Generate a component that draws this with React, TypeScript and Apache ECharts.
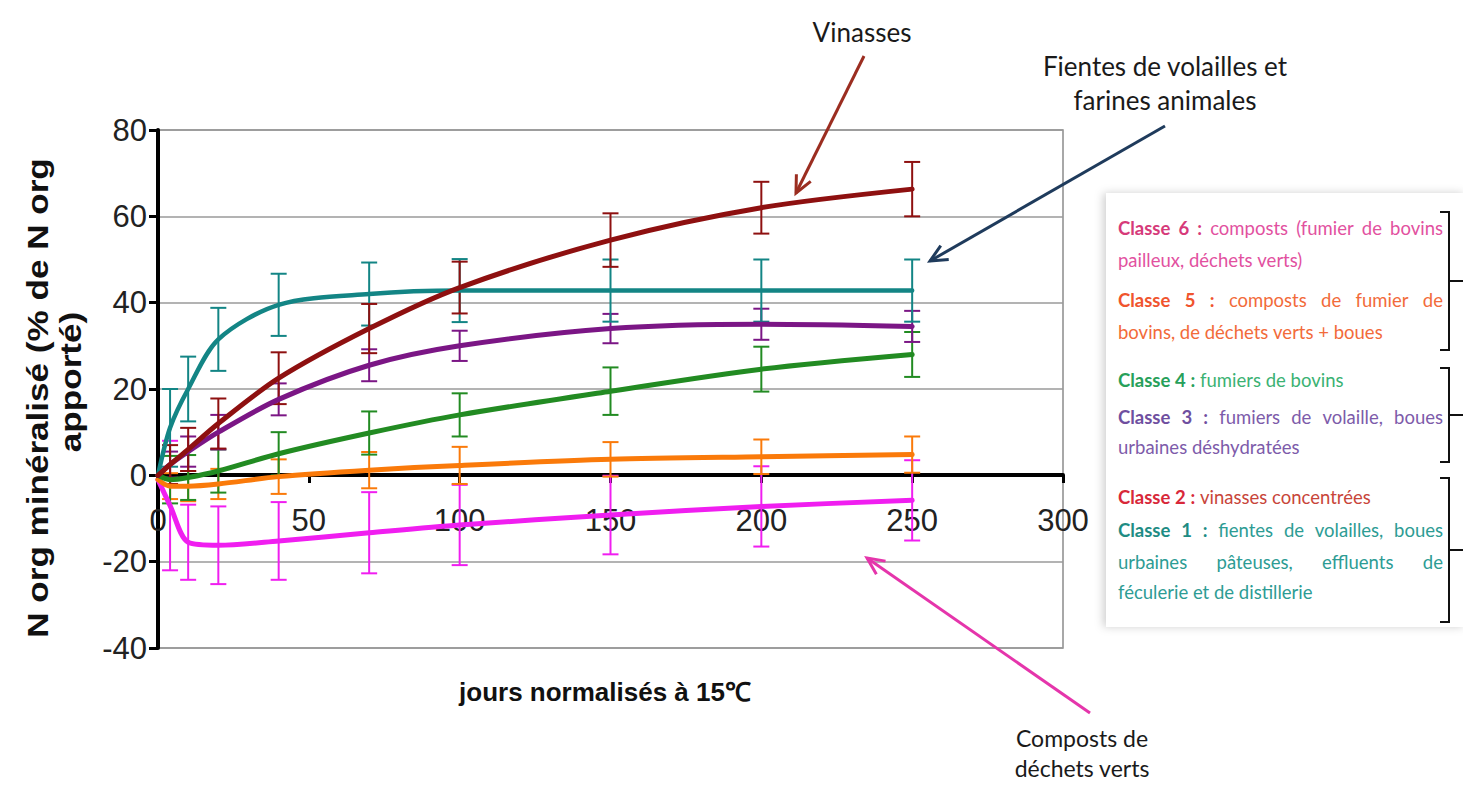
import React, { useEffect, useRef } from 'react';
import * as echarts from 'echarts';

// ---------- data ----------
const xDays = [0, 4, 10, 20, 40, 70, 100, 150, 200, 250];

const vinasses = [0, 2.5, 6, 12, 22.5, 34, 43.5, 54.5, 62, 66.3];
const vinassesErr = [null, 4.5, 5, 5.8, 6, 5.7, 6, 6.2, 6, 6.3];

const fientes = [0, 11, 20, 31.5, 39.5, 42, 42.8, 42.8, 42.8, 42.8];
const fientesErr = [null, 9, 7.5, 7.3, 7.2, 7.3, 7.3, 7.2, 7.2, 7.2];

const classe3 = [0, 2.5, 5.5, 10, 17.6, 25.5, 30, 34, 35, 34.5];
const classe3Err = [null, 3, 3.5, 4, 3.7, 3.7, 3.5, 3.4, 3.6, 3.6];

const classe4 = [0, -1, -0.5, 1, 5, 9.8, 14, 19.5, 24.6, 28];
const classe4Err = [null, 5.5, 5.2, 5, 5, 5, 5, 5.5, 5.2, 5.2];

const classe5 = [-1, -2.5, -2.5, -2, -0.3, 1.2, 2.3, 3.7, 4.3, 4.8];
const classe5Err = [null, 3, 3.5, 3.5, 4, 4.2, 4.3, 4, 4, 4.2];

const composts = [-1, -7, -15.5, -16.2, -15.2, -13.3, -11.5, -9.2, -7.2, -5.8];
const compostsErr = [null, 15, 8.7, 9, 9, 9.4, 9.3, 9.1, 9.3, 9.3];

const xMin = 0, xMax = 300, xStep = 50;
const yMin = -40, yMax = 80, yStep = 20;

const xTitle = 'jours normalisés à 15℃';
const yTitle1 = 'N org minéralisé (% de N org';
const yTitle2 = 'apporté)';

const legendBold = ['Classe 6 :', '', 'Classe 5 :', '', 'Classe 4 :', 'Classe 3 :', '', 'Classe 2 :', 'Classe 1 :', '', ''];
const legendText = [
  'composts (fumier de bovins',
  'pailleux, déchets verts)',
  'composts de fumier de',
  'bovins, de déchets verts + boues',
  'fumiers de bovins',
  'fumiers de volaille, boues',
  'urbaines déshydratées',
  'vinasses concentrées',
  'fientes de volailles, boues',
  'urbaines pâteuses, effluents de',
  'féculerie et de distillerie',
];
const legendJustify = [true, false, true, false, false, true, false, false, true, true, false];
const legendY = [228, 260, 300, 332, 380, 417, 447, 497, 530, 562, 592];
const legendColor = ['#E2519F', '#E2519F', '#F26B3A', '#F26B3A', '#3BB273', '#7D5BAA', '#7D5BAA', '#C8453A', '#2D9C94', '#2D9C94', '#2D9C94'];
const legendBoldColor = ['#D63A7A', '#D63A7A', '#F0542E', '#F0542E', '#27A05A', '#6F4FA0', '#6F4FA0', '#D8283A', '#1E8C84', '#1E8C84', '#1E8C84'];

const seriesDefs = [
  { name: 'Classe 6', values: composts, errors: compostsErr, color: '#F01EF0', width: 5 },
  { name: 'Classe 5', values: classe5, errors: classe5Err, color: '#FA7A0A', width: 5 },
  { name: 'Classe 4', values: classe4, errors: classe4Err, color: '#228B22', width: 5 },
  { name: 'Classe 3', values: classe3, errors: classe3Err, color: '#7B1685', width: 5 },
  { name: 'Classe 1', values: fientes, errors: fientesErr, color: '#138585', width: 4.5 },
  { name: 'Classe 2', values: vinasses, errors: vinassesErr, color: '#8E1010', width: 5 },
];

// ---------- layout ----------
const GRID_LEFT = 158;
const GRID_RIGHT = 400;
const GRID_TOP = 130;
const GRID_BOTTOM = 137;
const CHART_H = 785;

const AXIS_FONT = '"Liberation Sans", Arial, sans-serif';
const LEG_FONT = 'Lato';
const LEG_SIZE = 18.5;
const LEG_LEFT = 1118;
const LEG_RIGHT = 1443;

let measureCtx: CanvasRenderingContext2D | null = null;
function textWidth(text: string, bold: boolean): number {
  if (!measureCtx) measureCtx = document.createElement('canvas').getContext('2d');
  measureCtx!.font = `${bold ? 'bold ' : ''}${LEG_SIZE}px ${LEG_FONT}`;
  return measureCtx!.measureText(text).width;
}

function legendElements(): any[] {
  const out: any[] = [];
  legendText.forEach((txt, i) => {
    const words: { t: string; b: boolean }[] = [];
    if (legendBold[i]) legendBold[i].split(' ').forEach((w) => words.push({ t: w, b: true }));
    txt.split(' ').forEach((w) => words.push({ t: w, b: false }));
    const widths = words.map((w) => textWidth(w.t, w.b));
    const sum = widths.reduce((a, b) => a + b, 0);
    const space = textWidth(' ', false);
    let gap = space;
    if (legendJustify[i] && words.length > 1) {
      gap = (LEG_RIGHT - LEG_LEFT - sum) / (words.length - 1);
    }
    let x = LEG_LEFT;
    words.forEach((w, k) => {
      out.push({
        type: 'text', x, y: legendY[i], z: 20,
        style: {
          text: w.t, fill: w.b ? legendBoldColor[i] : legendColor[i],
          fontFamily: LEG_FONT, fontSize: LEG_SIZE, fontWeight: w.b ? 'bold' : 'normal',
          align: 'left', verticalAlign: 'middle',
        },
      });
      x += widths[k] + gap;
    });
  });
  return out;
}

function bracket(top: number, bottom: number): any[] {
  const vx = 1449;
  const mid = (top + bottom) / 2;
  const st = { stroke: '#111', lineWidth: 2 };
  return [
    { type: 'polyline', z: 20, shape: { points: [[1440, top], [vx, top], [vx, bottom], [1440, bottom]] }, style: { ...st, fill: null } },
    { type: 'line', z: 20, shape: { x1: vx, y1: mid, x2: 1463, y2: mid }, style: st },
  ];
}

function arrow(x1: number, y1: number, x2: number, y2: number, color: string): any[] {
  const dx = x2 - x1, dy = y2 - y1;
  const len = Math.sqrt(dx * dx + dy * dy);
  const ux = dx / len, uy = dy / len;
  const nx = -uy, ny = ux;
  const L = 17, W = 8;
  return [
    { type: 'line', z: 20, shape: { x1, y1, x2, y2 }, style: { stroke: color, lineWidth: 3 } },
    {
      type: 'polyline', z: 20,
      shape: { points: [[x2 - ux * L + nx * W, y2 - uy * L + ny * W], [x2, y2], [x2 - ux * L - nx * W, y2 - uy * L - ny * W]] },
      style: { stroke: color, lineWidth: 3, fill: null },
    },
  ];
}

function annot(text: string, x: number, y: number, size = 26): any {
  return {
    type: 'text', x, y, z: 20,
    style: { text, fill: '#1a1a1a', fontFamily: LEG_FONT, fontSize: size, align: 'center', verticalAlign: 'middle' },
  };
}

function buildOption(): any {
  // distance from bottom edge of the grid up to the y = 0 line
  const plotH = CHART_H - GRID_TOP - GRID_BOTTOM;
  const zeroOffset = -Math.round(plotH * (0 - yMin) / (yMax - yMin));

  const errorSeries = seriesDefs.map((s) => ({
    type: 'custom',
    name: s.name + ' err',
    z: 2,
    encode: { x: 0, y: [1, 2] },
    data: xDays
      .map((x, i) => (s.errors[i] == null ? null : [x, s.values[i] - (s.errors[i] as number), s.values[i] + (s.errors[i] as number)]))
      .filter((d) => d !== null),
    renderItem: (params: any, api: any) => {
      const x = api.value(0);
      const lo = api.coord([x, api.value(1)]);
      const hi = api.coord([x, api.value(2)]);
      const hw = 8;
      const st = { stroke: s.color, lineWidth: 2 };
      return {
        type: 'group',
        children: [
          { type: 'line', shape: { x1: hi[0], y1: hi[1], x2: lo[0], y2: lo[1] }, style: st },
          { type: 'line', shape: { x1: hi[0] - hw, y1: hi[1], x2: hi[0] + hw, y2: hi[1] }, style: st },
          { type: 'line', shape: { x1: lo[0] - hw, y1: lo[1], x2: lo[0] + hw, y2: lo[1] }, style: st },
        ],
      };
    },
  }));

  const lineSeries = seriesDefs.map((s) => ({
    type: 'line',
    name: s.name,
    z: 3,
    smooth: 0.3,
    symbol: 'none',
    showSymbol: false,
    data: xDays.map((x, i) => [x, s.values[i]]),
    lineStyle: { color: s.color, width: s.width, cap: 'round', join: 'round' },
  }));

  const graphic: any[] = [
    {
      type: 'rect', z: 10, shape: { x: 1106, y: 193, width: 360, height: 434 },
      style: { fill: '#ffffff', shadowColor: 'rgba(0,0,0,0.18)', shadowBlur: 8, shadowOffsetX: -3 },
    },
    ...legendElements(),
    ...bracket(212, 350),
    ...bracket(368, 462),
    ...bracket(478, 622),
    annot('Vinasses', 862, 32),
    ...arrow(864, 56, 796, 193, '#9B2D20'),
    annot('Fientes de volailles et', 1165, 66),
    annot('farines animales', 1165, 100),
    ...arrow(1165, 126, 930, 261, '#1F3B5C'),
    annot('Composts de', 1082, 738, 23),
    annot('déchets verts', 1082, 768, 23),
    ...arrow(1090, 713, 867, 558, '#E535AB'),
    {
      type: 'text', x: 37, y: 398, rotation: Math.PI / 2, scaleX: 1.17, z: 20,
      style: { text: yTitle1, fill: '#111', fontFamily: AXIS_FONT, fontWeight: 'bold', fontSize: 30, align: 'center', verticalAlign: 'middle' },
    },
    {
      type: 'text', x: 70, y: 382, rotation: Math.PI / 2, scaleX: 1.17, z: 20,
      style: { text: yTitle2, fill: '#111', fontFamily: AXIS_FONT, fontWeight: 'bold', fontSize: 30, align: 'center', verticalAlign: 'middle' },
    },
    {
      type: 'text', x: 605, y: 692, z: 20,
      style: { text: xTitle, fill: '#111', fontFamily: AXIS_FONT, fontWeight: 'bold', fontSize: 26, align: 'center', verticalAlign: 'middle' },
    },
  ];

  return {
    animation: false,
    backgroundColor: '#ffffff',
    grid: { left: GRID_LEFT, right: GRID_RIGHT, top: GRID_TOP, bottom: GRID_BOTTOM, show: true, borderColor: '#8c8c8c', borderWidth: 1.5, backgroundColor: 'transparent' },
    xAxis: {
      type: 'value', min: xMin, max: xMax, interval: xStep,
      position: 'bottom',
      offset: zeroOffset,
      axisLine: { onZero: false, lineStyle: { color: '#000', width: 4 } },
      axisTick: { show: true, length: 8, lineStyle: { color: '#000', width: 3 } },
      axisLabel: { margin: 30, fontSize: 31, color: '#222', fontFamily: AXIS_FONT, showMinLabel: true, showMaxLabel: true },
      splitLine: { show: false },
    },
    yAxis: {
      type: 'value', min: yMin, max: yMax, interval: yStep,
      axisLine: { show: true, onZero: false, lineStyle: { color: '#000', width: 4 } },
      axisTick: { show: true, length: 9, lineStyle: { color: '#000', width: 3 } },
      axisLabel: { margin: 11, fontSize: 31, color: '#222', fontFamily: AXIS_FONT },
      splitLine: { show: true, lineStyle: { color: '#9a9a9a', width: 1.5 } },
    },
    series: [...errorSeries, ...lineSeries],
    graphic,
  };
}

export default function App() {
  const ref = useRef<HTMLDivElement>(null);
  useEffect(() => {
    if (!ref.current) return;
    const chart = echarts.init(ref.current, null, { renderer: 'svg' });
    chart.setOption(buildOption());
    return () => chart.dispose();
  }, []);
  return (
    <div
      ref={ref}
      style={{ position: 'fixed', left: 0, top: 0, width: 1463, height: CHART_H, background: '#fff' }}
    />
  );
}
